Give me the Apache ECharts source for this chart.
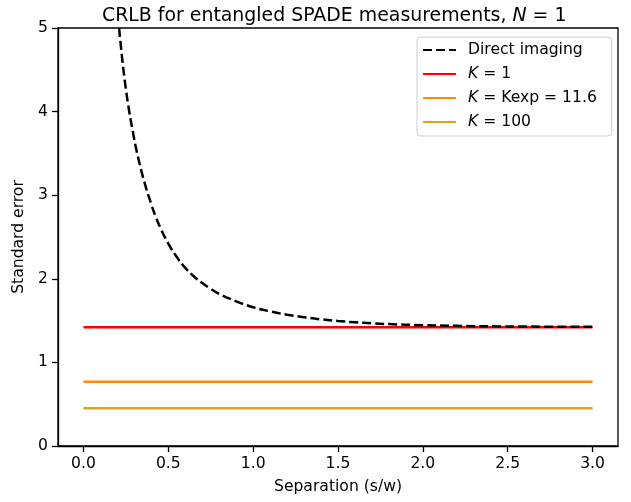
<!DOCTYPE html>
<html>
<head>
<meta charset="utf-8">
<script src="https://cdn.jsdelivr.net/npm/echarts@6/dist/echarts.min.js"></script>
<style>
  html, body { margin: 0; padding: 0; background: #fff; }
  #chart { width: 631px; height: 502px; }
</style>
</head>
<body>
<div id="chart"></div>
<script>
/* separation values and direct imaging standard error */
const sepDirect = [0.21, 0.23, 0.25, 0.27, 0.29, 0.31, 0.34, 0.37, 0.40, 0.43, 0.46, 0.50, 0.55, 0.60,
  0.65, 0.70, 0.75, 0.80, 0.90, 1.00, 1.10, 1.20, 1.30, 1.40, 1.50, 1.60, 1.70, 1.80, 2.00, 2.20, 2.50, 3.00]
const errDirect = [5.00, 4.60, 4.27, 4.00, 3.77, 3.56, 3.30, 3.08, 2.89, 2.72, 2.58, 2.42, 2.26, 2.13,
  2.03, 1.95, 1.88, 1.82, 1.73, 1.66, 1.61, 1.57, 1.54, 1.515, 1.495, 1.48, 1.468, 1.458, 1.445, 1.437, 1.43, 1.425]

/* SPADE lines, flat across the separation range */
const sepRange = [0.0, 3.0]
const errK1 = [1.42, 1.42]
const errKexp = [0.768, 0.768]
const errK100 = [0.452, 0.452]

const xTicks = [0, 0.5, 1.0, 1.5, 2.0, 2.5, 3.0]
const seriesNames = ['Direct imaging', 'K = 1', 'K = Kexp = 11.6', 'K = 100']

const font = 'DejaVu Sans'
const fs = 15.6
const pairs = (xs, ys) => xs.map((x, i) => [x, ys[i]])

const chart = echarts.init(document.getElementById('chart'))

const option = {
  animation: false,
  title: {
    text: '{a|CRLB for entangled SPADE measurements, }{i|N}{a| = 1}',
    left: 97,
    top: 2,
    textStyle: {
      fontWeight: 'normal',
      rich: {
        a: { fontFamily: font, fontSize: 18.9, fontWeight: 'normal', color: '#000' },
        i: { fontFamily: font, fontSize: 18.9, fontWeight: 'normal', color: '#000', fontStyle: 'italic' }
      }
    }
  },
  grid: {
    left: 58, right: 13, top: 28, bottom: 56,
    show: true, borderColor: '#000', borderWidth: 1.3
  },
  legend: {
    orient: 'vertical',
    left: 417,
    top: 37,
    padding: [5, 15, 6, 5],
    itemWidth: 33,
    itemHeight: 14,
    itemGap: 8,
    backgroundColor: '#fff',
    borderColor: '#cccccc',
    borderWidth: 1,
    borderRadius: 4,
    itemStyle: { opacity: 0 },
    data: seriesNames,
    formatter: function (name) {
      if (name.indexOf('K') === 0) {
        return '{i|K}{a|' + name.slice(1) + '}'
      }
      return '{a|' + name + '}'
    },
    textStyle: {
      padding: [0, 0, 0, 7],
      rich: {
        a: { fontFamily: font, fontSize: fs, color: '#000' },
        i: { fontFamily: font, fontSize: fs, color: '#000', fontStyle: 'italic' }
      }
    }
  },
  xAxis: {
    type: 'value',
    min: -0.15,
    max: 3.15,
    name: 'Separation (s/w)',
    nameLocation: 'middle',
    nameGap: 33,
    nameTextStyle: { fontFamily: font, fontSize: fs, color: '#000' },
    axisLine: { onZero: false, lineStyle: { color: '#000', width: 1.3 } },
    axisTick: { show: true, length: 6, lineStyle: { color: '#000', width: 1.3 }, customValues: xTicks },
    axisLabel: {
      customValues: xTicks,
      fontFamily: font, fontSize: fs, color: '#000', margin: 10,
      formatter: v => v.toFixed(1)
    },
    splitLine: { show: false }
  },
  yAxis: {
    type: 'value',
    min: 0,
    max: 5,
    interval: 1,
    name: 'Standard error',
    nameLocation: 'middle',
    nameGap: 27,
    nameTextStyle: { fontFamily: font, fontSize: fs, color: '#000' },
    axisLine: { show: true, onZero: false, lineStyle: { color: '#000', width: 1.3 } },
    axisTick: { show: true, length: 6, lineStyle: { color: '#000', width: 1.3 } },
    axisLabel: { fontFamily: font, fontSize: fs, color: '#000', margin: 10 },
    splitLine: { show: false }
  },
  series: [
    {
      name: seriesNames[0],
      type: 'line',
      data: pairs(sepDirect, errDirect),
      smooth: 0.4,
      showSymbol: false,
      symbol: 'none',
      clip: true,
      lineStyle: { color: '#000', width: 2.5, type: [9, 4] },
      itemStyle: { color: '#000' },
      z: 5
    },
    {
      name: seriesNames[1],
      type: 'line',
      data: pairs(sepRange, errK1),
      showSymbol: false,
      symbol: 'none',
      lineStyle: { color: '#ff0000', width: 2.5 },
      itemStyle: { color: '#ff0000' },
      z: 4
    },
    {
      name: seriesNames[2],
      type: 'line',
      data: pairs(sepRange, errKexp),
      showSymbol: false,
      symbol: 'none',
      lineStyle: { color: '#ff8c00', width: 2.5 },
      itemStyle: { color: '#ff8c00' }
    },
    {
      name: seriesNames[3],
      type: 'line',
      data: pairs(sepRange, errK100),
      showSymbol: false,
      symbol: 'none',
      lineStyle: { color: '#daa520', width: 2.5 },
      itemStyle: { color: '#daa520' }
    }
  ]
}

chart.setOption(option)
</script>
</body>
</html>
